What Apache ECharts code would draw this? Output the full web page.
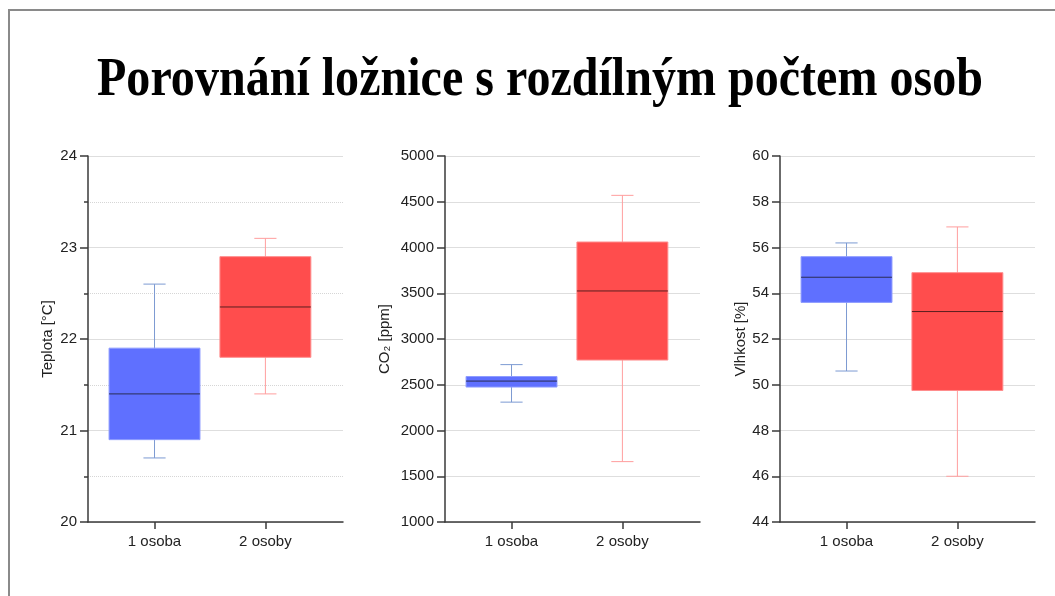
<!DOCTYPE html>
<html>
<head>
<meta charset="utf-8">
<title>Porovnání ložnice</title>
<script src="https://cdn.jsdelivr.net/npm/echarts@6/dist/echarts.min.js"></script>
<style>
html, body { margin: 0; padding: 0; background: #fff; }
#main { width: 1055px; height: 596px; }
</style>
</head>
<body>
<div id="main"></div>
<script>
// kategorie a hodnoty boxplotu: [min, Q1, median, Q3, max]
var categories = ['1 osoba', '2 osoby'];
var teplota = [[20.7, 20.9, 21.4, 21.9, 22.6], [21.4, 21.8, 22.35, 22.9, 23.1]];
var co2 = [[2310, 2475, 2540, 2590, 2720], [1660, 2770, 3525, 4060, 4570]];
var vlhkost = [[50.6, 53.6, 54.7, 55.6, 56.2], [46.0, 49.75, 53.2, 54.9, 56.9]];

var fills = ['#5F70FF', '#FF4D4D'];
var borders = ['#8E9CFF', '#FF8C8C'];
var whiskers = ['#7C9AD2', '#FF9E9E'];
var medians = ['#2A2D55', '#5A1F1F'];

var myChart = echarts.init(document.getElementById('main'));

function renderBox(params, api) {
  var i = params.dataIndex;
  var x = api.value(0);
  var pMin = api.coord([x, api.value(1)]);
  var pQ1 = api.coord([x, api.value(2)]);
  var pMed = api.coord([x, api.value(3)]);
  var pQ3 = api.coord([x, api.value(4)]);
  var pMax = api.coord([x, api.value(5)]);
  var half = api.size([0.82, 0])[0] / 2;
  var cap = api.size([0.2, 0])[0] / 2;
  var cx = pMed[0];
  return {
    type: 'group',
    children: [
      { type: 'line', shape: { x1: cx, y1: pMin[1], x2: cx, y2: pMax[1] },
        style: { stroke: whiskers[i], lineWidth: 1 } },
      { type: 'line', shape: { x1: cx - cap, y1: pMin[1], x2: cx + cap, y2: pMin[1] },
        style: { stroke: whiskers[i], lineWidth: 1 } },
      { type: 'line', shape: { x1: cx - cap, y1: pMax[1], x2: cx + cap, y2: pMax[1] },
        style: { stroke: whiskers[i], lineWidth: 1 } },
      { type: 'rect', shape: { x: cx - half, y: pQ3[1], width: half * 2, height: pQ1[1] - pQ3[1] },
        style: { fill: fills[i], stroke: borders[i], lineWidth: 1 } },
      { type: 'line', shape: { x1: cx - half, y1: pMed[1], x2: cx + half, y2: pMed[1] },
        style: { stroke: medians[i], lineWidth: 1 } }
    ]
  };
}

function toData(arr) {
  return arr.map(function (v, k) { return [k + 1].concat(v); });
}

var lefts = [88, 445, 780];
var names = ['Teplota [°C]', 'CO₂ [ppm]', 'Vlhkost [%]'];
var nameGaps = [33, 53, 32];
var ranges = [[20, 24, 1], [1000, 5000, 500], [44, 60, 2]];
var sets = [teplota, co2, vlhkost];

var grids = [], xAxes = [], yAxes = [], series = [];
for (var g = 0; g < 3; g++) {
  grids.push({ left: lefts[g], top: 156, width: 255, height: 366 });
  xAxes.push({
    type: 'value', gridIndex: g, min: 0.4, max: 2.7,
    splitLine: { show: false },
    axisLine: { show: true, onZero: false, lineStyle: { color: '#3a3a3a', width: 1.5 } },
    axisTick: { show: true, customValues: [1, 2], length: 7, lineStyle: { color: '#3a3a3a', width: 1.5 } },
    axisLabel: {
      customValues: [1, 2], margin: 12, fontSize: 15, color: '#222',
      fontFamily: 'Liberation Sans',
      formatter: function (v) { return categories[Math.round(v) - 1]; }
    }
  });
  yAxes.push({
    type: 'value', gridIndex: g,
    min: ranges[g][0], max: ranges[g][1], interval: ranges[g][2],
    name: names[g], nameLocation: 'middle', nameGap: nameGaps[g],
    nameTextStyle: { fontSize: 15, color: '#222', fontFamily: 'Liberation Sans' },
    axisLine: { show: true, onZero: false, lineStyle: { color: '#3a3a3a', width: 1.5 } },
    axisTick: { show: true, length: 8, lineStyle: { color: '#3a3a3a', width: 1.5 } },
    minorTick: { show: g === 0, splitNumber: 2, length: 4, lineStyle: { color: '#3a3a3a', width: 1.5 } },
    minorSplitLine: { show: g === 0, lineStyle: { color: '#d6d6d6', type: 'dotted', width: 1 } },
    axisLabel: {
      margin: 11, fontSize: 15, color: '#222', fontFamily: 'Liberation Sans',
      formatter: function (v) { return String(v); }
    },
    splitLine: { show: true, lineStyle: { color: '#dedede', width: 1.2 } }
  });
  series.push({
    type: 'custom', xAxisIndex: g, yAxisIndex: g,
    renderItem: renderBox,
    encode: { x: 0, y: [1, 2, 3, 4, 5] },
    data: toData(sets[g]),
    silent: true
  });
}

var option = {
  animation: false,
  backgroundColor: '#fff',
  grid: grids,
  xAxis: xAxes,
  yAxis: yAxes,
  series: series,
  graphic: [
    { type: 'rect', shape: { x: 9, y: 10, width: 1200, height: 800 },
      style: { fill: 'none', stroke: '#8a8a8a', lineWidth: 2 }, silent: true },
    { type: 'text', x: 540, y: 81, scaleX: 0.89,
      style: { text: 'Porovnání ložnice s rozdílným počtem osob', fontFamily: 'Liberation Serif',
        fontWeight: 'bold', fontSize: 54, fill: '#000', align: 'center', verticalAlign: 'middle' } }
  ]
};

myChart.setOption(option);
</script>
</body>
</html>
